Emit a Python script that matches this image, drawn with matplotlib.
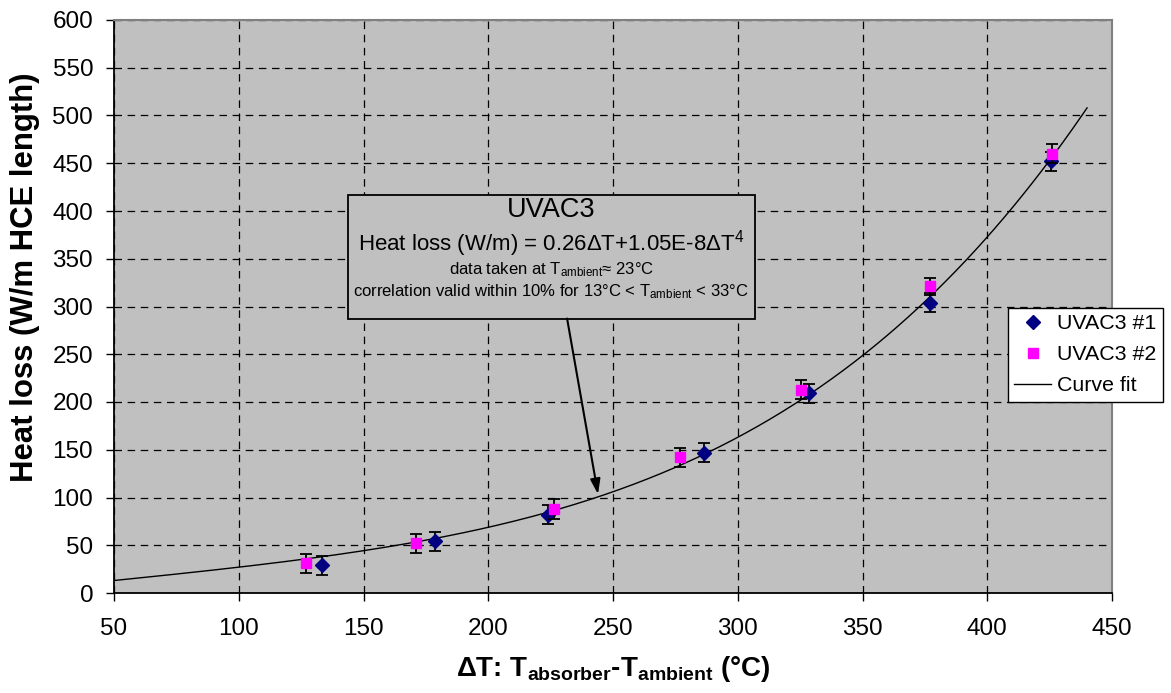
import matplotlib
matplotlib.use("Agg")
import matplotlib.pyplot as plt
import numpy as np
from matplotlib.patches import Rectangle
from matplotlib.lines import Line2D

plt.rcParams['font.family'] = ['Liberation Sans', 'DejaVu Sans']
plt.rcParams['mathtext.fontset'] = 'custom'
plt.rcParams['mathtext.rm'] = 'Liberation Sans'
plt.rcParams['mathtext.it'] = 'Liberation Sans:italic'
plt.rcParams['mathtext.bf'] = 'Liberation Sans:bold'

# ---- data ----
uvac1_dt = [133.5, 178.5, 224, 286.5, 328.5, 377, 425.5]
uvac1_loss = [29, 54, 82, 147, 209, 304, 452]
uvac1_err = [10, 10, 10, 10, 10, 10, 10]

uvac2_dt = [127, 171, 226.5, 277, 325.5, 377, 426]
uvac2_loss = [31, 52, 88, 142, 213, 321, 460]
uvac2_err = [10, 10, 10, 10, 10, 9, 10]

# curve fit coefficients (from chart text): a*dT + b*dT^4
fit_a = 0.26
fit_b = 1.05e-8
fit_range = [50, 440]

x_ticks = [50, 100, 150, 200, 250, 300, 350, 400, 450]
y_ticks = [0, 50, 100, 150, 200, 250, 300, 350, 400, 450, 500, 550, 600]

W, H = 1171, 693
fig = plt.figure(figsize=(W / 100, H / 100), dpi=100)
ax = fig.add_axes([114 / W, 1 - 593 / H, (1112 - 114) / W, (593 - 20) / H])
ax.set_facecolor('#C0C0C0')

ax.set_xlim(50, 450)
ax.set_ylim(0, 600)
ax.set_xticks(x_ticks)
ax.set_yticks(y_ticks)
ax.grid(True, color='black', linestyle=(0, (6, 4.5)), linewidth=0.9)
ax.set_axisbelow(True)

for s in ['top', 'right']:
    ax.spines[s].set_color('#808080')
    ax.spines[s].set_linewidth(1.5)
for s in ['left', 'bottom']:
    ax.spines[s].set_color('black')
    ax.spines[s].set_linewidth(1.3)

ax.tick_params(axis='both', direction='out', length=6, width=1, labelsize=17.5)
ax.tick_params(axis='x', pad=12)
ax.tick_params(axis='y', pad=9)

# curve
xf = np.linspace(fit_range[0], fit_range[1], 400)
yf = fit_a * xf + fit_b * xf ** 4
ax.plot(xf, yf, color='black', lw=1.0, zorder=3)

ax.errorbar(uvac1_dt, uvac1_loss, yerr=uvac1_err, fmt='D', color='#000080',
            markersize=7.5, ecolor='black', elinewidth=1.3, capsize=4.5,
            capthick=1.3, zorder=4)
ax.errorbar(uvac2_dt, uvac2_loss, yerr=uvac2_err, fmt='s', color='#FF00FF',
            markersize=7.5, ecolor='black', elinewidth=1.3, capsize=4.5,
            capthick=1.3, zorder=5)

fig.text(25 / W, 1 - 277 / H, 'Heat loss (W/m HCE length)', rotation=90,
         ha='center', va='center', fontsize=22.4, fontweight='bold')
ax.set_xlabel(r'ΔT: T$_{\mathbf{absorber}}$-T$_{\mathbf{ambient}}$ (°C)',
              fontsize=20, fontweight='bold', labelpad=10)

# annotation box
box = Rectangle((143.8, 287.4), 306.9 - 143.8, 417 - 287.4, facecolor='#C0C0C0',
                edgecolor='black', lw=1.3, zorder=6)
ax.add_patch(box)
cx = 225.3
ax.text(cx, 401, 'UVAC3', ha='center', va='center', fontsize=19.5, zorder=7)
ax.text(cx, 366, r'Heat loss (W/m) = 0.26ΔT+1.05E-8ΔT$^{\mathregular{4}}$',
        ha='center', va='center', fontsize=16, zorder=7)
ax.text(cx, 339, r'data taken at T$_{\mathregular{ambient}}$≈ 23°C',
        ha='center', va='center', fontsize=12, zorder=7)
ax.text(cx, 316, r'correlation valid within 10% for 13°C < T$_{\mathregular{ambient}}$ < 33°C',
        ha='center', va='center', fontsize=12, zorder=7)
ax.annotate('', xy=(244, 103.5), xytext=(231.6, 287.4),
            arrowprops=dict(arrowstyle='-|>,head_length=0.9,head_width=0.3',
                            color='black', lw=1.5, shrinkA=0, shrinkB=0), zorder=7)

handles = [
    Line2D([], [], marker='D', color='#000080', linestyle='none', markersize=7),
    Line2D([], [], marker='s', color='#FF00FF', linestyle='none', markersize=7.5),
    Line2D([], [], color='black', lw=1.0),
]
leg = fig.legend(handles=handles, labels=['UVAC3 #1', 'UVAC3 #2', 'Curve fit'],
                 loc='upper left', bbox_to_anchor=(1008 / W, 1 - 308 / H),
                 borderaxespad=0, fontsize=15.4, frameon=True, fancybox=False,
                 edgecolor='black', framealpha=1, handlelength=1.7,
                 handletextpad=0.3, labelspacing=0.56, borderpad=0.3)
leg.get_frame().set_linewidth(1.0)

fig.savefig('out.png', dpi=100)
